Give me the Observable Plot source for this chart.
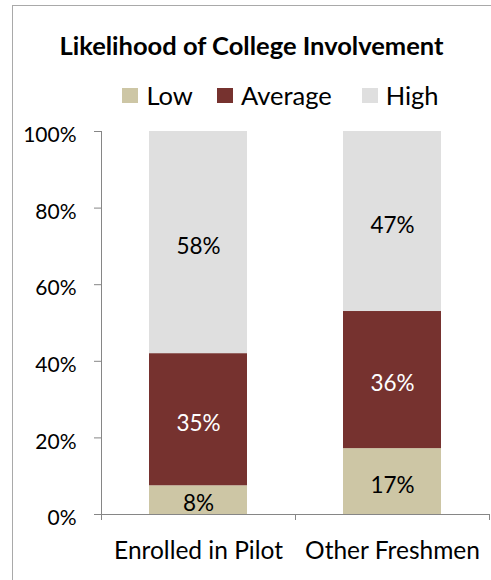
<!DOCTYPE html>
<html>
<head>
<meta charset="utf-8">
<script src="https://cdn.jsdelivr.net/npm/d3@7"></script>
<script src="https://cdn.jsdelivr.net/npm/@observablehq/plot@0.6"></script>
<style>
  body { margin: 0; background: #fff; font-family: Lato, "Open Sans", sans-serif; color: #000; }
  #wrap { position: relative; width: 491px; height: 580px; overflow: hidden; }
  #frame { position: absolute; left: 12px; top: 5px; width: 700px; height: 800px;
           border-left: 1.5px solid #a9a9a9; border-top: 1.5px solid #a9a9a9; }
  #title { position: absolute; left: 0; width: 503px; top: 30px; text-align: center;
           font-weight: 700; font-size: 25.5px; line-height: 1.2; white-space: nowrap; }
  #legend { position: absolute; left: 0; width: 561px; top: 80px; display: flex;
            justify-content: center; font-size: 25.5px; line-height: 1.2; white-space: nowrap; }
  .item { display: flex; align-items: flex-start; }
  .sw { width: 16px; height: 15px; margin-top: 8px; margin-right: 8px; }
  #chart { position: absolute; left: 0; top: 110px; }
</style>
</head>
<body>
<div id="wrap">
  <div id="frame"></div>
  <div id="title">Likelihood of College Involvement</div>
  <div id="legend"></div>
  <div id="chart"></div>
</div>
<script>
const groups = ["Enrolled in Pilot", "Other Freshmen"];
const levels = ["Low", "Average", "High"];
const levelColors = ["#cdc6a5", "#76322f", "#dfdfdf"];
const labelColors = ["#000000", "#ffffff", "#000000"];
const lowValues = [7.5, 17.2];
const averageValues = [34.5, 35.8];
const highValues = [58, 47];
const yTicks = [0, 20, 40, 60, 80, 100];

const seriesValues = [lowValues, averageValues, highValues];
const rows = [];
groups.forEach((g, gi) => {
  levels.forEach((lv, li) => {
    rows.push({ group: g, level: lv, value: seriesValues[li][gi] });
  });
});

// legend
const legend = document.getElementById("legend");
const legendGaps = [24, 30, 0];
levels.forEach((lv, i) => {
  const it = document.createElement("div");
  it.className = "item";
  it.style.marginRight = legendGaps[i] + "px";
  const sw = document.createElement("div");
  sw.className = "sw";
  sw.style.background = levelColors[i];
  const tx = document.createElement("span");
  tx.textContent = lv;
  it.appendChild(sw);
  it.appendChild(tx);
  legend.appendChild(it);
});

const W = 491, H = 470, mL = 101, mR = 2, mT = 21, mB = 66;
const step = (W - mL - mR) / groups.length;
const axisColor = "#868686";

const chart = Plot.plot({
  width: W, height: H,
  marginLeft: mL, marginRight: mR, marginTop: mT, marginBottom: mB,
  style: { fontFamily: "Lato, 'Open Sans', sans-serif", fontSize: "21px", color: "#000", background: "transparent", overflow: "visible" },
  x: { domain: groups, paddingInner: 0.495, paddingOuter: 0.2475, label: null },
  y: { domain: [0, 100], label: null },
  color: { domain: levels, range: levelColors },
  marks: [
    Plot.barY(rows, Plot.stackY({ x: "group", y: "value", fill: "level", order: levels })),
    Plot.text(rows, Plot.stackY({
      x: "group", y: "value", z: "level", order: levels,
      text: d => Math.round(d.value) + "%",
      fill: d => labelColors[levels.indexOf(d.level)],
      fontSize: 22.5, dy: 4
    })),
    Plot.frame({ anchor: "left", stroke: axisColor }),
    Plot.ruleY([0], { stroke: axisColor, insetLeft: -7 }),
    Plot.axisY({ ticks: yTicks, tickFormat: () => "", tickSize: 7, stroke: axisColor }),
    Plot.axisY({ ticks: yTicks, tickFormat: d => d + "%", tickSize: 0, tickPadding: 25, fontSize: 21, dy: 4 }),
    Plot.axisX({ tickSize: 6, tickFormat: () => "", dx: -step / 2, stroke: axisColor }),
    Plot.axisX({ ticks: [groups[groups.length - 1]], tickSize: 6, tickFormat: () => "", dx: step / 2, stroke: axisColor }),
    Plot.axisX({ tickSize: 0, tickPadding: 27, fontSize: 24.5 })
  ]
});
document.getElementById("chart").appendChild(chart);
</script>
</body>
</html>
